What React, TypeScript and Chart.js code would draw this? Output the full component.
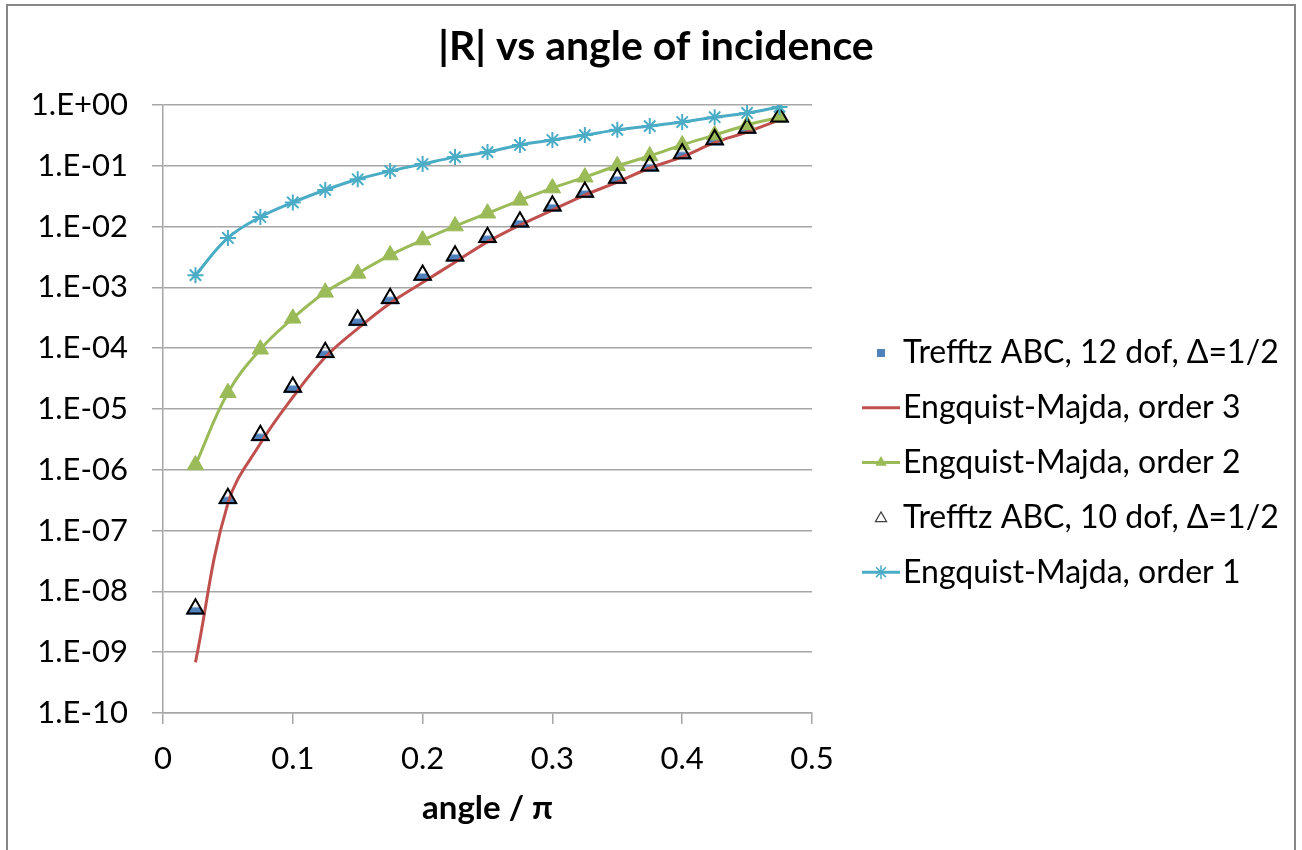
import React, { useEffect, useRef } from 'react';
import { Chart, registerables } from 'chart.js';

Chart.register(...registerables);

// ---------- data ----------
const angles = [0.025, 0.05, 0.075, 0.1, 0.125, 0.15, 0.175, 0.2, 0.225, 0.25, 0.275, 0.3, 0.325, 0.35, 0.375, 0.4, 0.425, 0.45, 0.475];
const trefftz12 = [5.2e-9, 3.4e-7, 3.7e-6, 2.3e-5, 8.6e-5, 2.9e-4, 6.6e-4, 1.6e-3, 3.3e-3, 6.7e-3, 1.2e-2, 2.2e-2, 3.7e-2, 6.3e-2, 0.1, 0.16, 0.27, 0.42, 0.64];
const engquist3 = [6.8e-10, 2.8e-7, 2.7e-6, 1.56e-5, 7.1e-5, 2.1e-4, 5.5e-4, 1.2e-3, 2.6e-3, 5.6e-3, 1.06e-2, 1.87e-2, 3.3e-2, 5.4e-2, 9.2e-2, 0.14, 0.24, 0.36, 0.57];
const engquist2 = [1.2e-6, 1.85e-5, 9.6e-5, 3.1e-4, 8.3e-4, 1.7e-3, 3.4e-3, 6.0e-3, 1.02e-2, 1.66e-2, 2.7e-2, 4.3e-2, 6.5e-2, 0.1, 0.145, 0.22, 0.32, 0.47, 0.63];
const trefftz10 = [5.2e-9, 3.4e-7, 3.7e-6, 2.3e-5, 8.6e-5, 2.9e-4, 6.6e-4, 1.6e-3, 3.3e-3, 6.7e-3, 1.2e-2, 2.2e-2, 3.7e-2, 6.3e-2, 0.1, 0.16, 0.27, 0.42, 0.64];
const engquist1 = [1.59e-3, 6.5e-3, 1.44e-2, 2.5e-2, 4.0e-2, 6.0e-2, 8.2e-2, 0.107, 0.139, 0.168, 0.22, 0.265, 0.32, 0.39, 0.45, 0.525, 0.63, 0.74, 0.93];

const seriesNames = [
  'Trefftz ABC, 12 dof, Δ=1/2',
  'Engquist-Majda, order 3',
  'Engquist-Majda, order 2',
  'Trefftz ABC, 10 dof, Δ=1/2',
  'Engquist-Majda, order 1',
];

const xTickValues = [0, 0.1, 0.2, 0.3, 0.4, 0.5];
const xTickLabels = ['0', '0.1', '0.2', '0.3', '0.4', '0.5'];
const yTickExponents = [0, -1, -2, -3, -4, -5, -6, -7, -8, -9, -10];
const yTickLabels = ['1.E+00', '1.E-01', '1.E-02', '1.E-03', '1.E-04', '1.E-05', '1.E-06', '1.E-07', '1.E-08', '1.E-09', '1.E-10'];

const chartTitle = '|R| vs angle of incidence';
const xAxisTitle = 'angle / π';

// ---------- styles ----------
const FONT = 'Lato, "Open Sans", "DejaVu Sans", sans-serif';
const BLUE = '#4F81BD';
const RED = '#C0504D';
const GREEN = '#9BBB59';
const CYAN = '#4BACC6';
const GRID = '#a6a6a6';

const toPoints = (ys: number[]) => angles.map((x, i) => ({ x, y: ys[i] }));

function makeBlueMarker(): HTMLCanvasElement {
  const s = 26;
  const c = document.createElement('canvas');
  c.width = s;
  c.height = s;
  const ctx = c.getContext('2d')!;
  const cx = s / 2;
  const cy = s / 2;
  ctx.save();
  ctx.beginPath();
  ctx.rect(0, cy - 1.5, s, s);
  ctx.clip();
  ctx.fillStyle = BLUE;
  ctx.beginPath();
  ctx.moveTo(cx, cy - 10.5);
  ctx.lineTo(cx + 9.5, cy + 6);
  ctx.lineTo(cx - 9.5, cy + 6);
  ctx.closePath();
  ctx.fill();
  ctx.restore();
  return c;
}

function triPath(ctx: CanvasRenderingContext2D, x: number, y: number, r: number) {
  ctx.beginPath();
  ctx.moveTo(x, y - r);
  ctx.lineTo(x + r * Math.sin(Math.PI / 3), y + r / 2);
  ctx.lineTo(x - r * Math.sin(Math.PI / 3), y + r / 2);
  ctx.closePath();
}

function starPath(ctx: CanvasRenderingContext2D, x: number, y: number, r: number) {
  const d = r * Math.SQRT1_2;
  ctx.beginPath();
  ctx.moveTo(x, y - r); ctx.lineTo(x, y + r);
  ctx.moveTo(x - r, y); ctx.lineTo(x + r, y);
  ctx.moveTo(x - d, y - d); ctx.lineTo(x + d, y + d);
  ctx.moveTo(x - d, y + d); ctx.lineTo(x + d, y - d);
}

const chromePlugin = {
  id: 'chrome',
  beforeDraw(chart: any) {
    const { ctx, width, height } = chart;
    ctx.save();
    ctx.fillStyle = '#ffffff';
    ctx.fillRect(0, 0, width, height);
    ctx.restore();
  },
  afterDraw(chart: any) {
    const { ctx, chartArea } = chart;
    ctx.save();
    // outer frame
    ctx.strokeStyle = '#878787';
    ctx.lineWidth = 2;
    ctx.strokeRect(7, 5, 1288, 900);

    // title
    ctx.fillStyle = '#000';
    ctx.textAlign = 'center';
    ctx.textBaseline = 'middle';
    ctx.font = `bold 41px ${FONT}`;
    ctx.fillText(chartTitle, 656, 47);

    // x axis title
    ctx.font = `bold 33px ${FONT}`;
    ctx.fillText(xAxisTitle, (chartArea.left + chartArea.right) / 2, 808);

    // legend
    const lx0 = 862, lx1 = 900, lxc = 881, tx = 903;
    const top = 353, step = 54.8;
    ctx.font = `32px ${FONT}`;
    ctx.textAlign = 'left';
    seriesNames.forEach((name, i) => {
      const y = top + i * step;
      ctx.save();
      if (i === 0) {
        ctx.fillStyle = BLUE;
        ctx.fillRect(lxc - 4, y - 4, 8, 8);
      } else if (i === 1) {
        ctx.strokeStyle = RED; ctx.lineWidth = 3;
        ctx.beginPath(); ctx.moveTo(lx0, y); ctx.lineTo(lx1, y); ctx.stroke();
      } else if (i === 2) {
        ctx.strokeStyle = GREEN; ctx.lineWidth = 3;
        ctx.beginPath(); ctx.moveTo(lx0, y); ctx.lineTo(lx1, y); ctx.stroke();
        ctx.fillStyle = GREEN;
        triPath(ctx, lxc, y, 6.5); ctx.fill();
      } else if (i === 3) {
        ctx.strokeStyle = '#404040'; ctx.lineWidth = 1.2; ctx.fillStyle = '#fff';
        triPath(ctx, lxc, y + 1, 6.5); ctx.fill(); ctx.stroke();
      } else {
        ctx.strokeStyle = CYAN; ctx.lineWidth = 3;
        ctx.beginPath(); ctx.moveTo(lx0, y); ctx.lineTo(lx1, y); ctx.stroke();
        ctx.lineWidth = 1.5;
        starPath(ctx, lxc, y, 7); ctx.stroke();
      }
      ctx.restore();
      ctx.fillStyle = '#000';
      ctx.fillText(name, tx, y);
    });
    ctx.restore();
  },
};

export default function App() {
  const ref = useRef<HTMLCanvasElement>(null);

  useEffect(() => {
    document.body.style.margin = '0';
    const canvas = ref.current!;
    const blueMarker = makeBlueMarker();

    const chart = new Chart(canvas, {
      type: 'line',
      data: {
        datasets: [
          {
            label: seriesNames[0],
            data: toPoints(trefftz12),
            showLine: false,
            pointStyle: blueMarker as any,
            pointRadius: 9,
            borderColor: BLUE,
            backgroundColor: BLUE,
            order: 5,
          },
          {
            label: seriesNames[1],
            data: toPoints(engquist3),
            borderColor: RED,
            backgroundColor: RED,
            borderWidth: 3,
            pointRadius: 0,
            tension: 0.4,
            order: 4,
          },
          {
            label: seriesNames[2],
            data: toPoints(engquist2),
            borderColor: GREEN,
            backgroundColor: GREEN,
            borderWidth: 3,
            pointStyle: 'triangle',
            pointRadius: 9.5,
            pointBorderWidth: 1,
            pointBackgroundColor: GREEN,
            pointBorderColor: GREEN,
            tension: 0.4,
            order: 3,
          },
          {
            label: seriesNames[3],
            data: toPoints(trefftz10),
            showLine: false,
            pointStyle: 'triangle',
            pointRadius: 9.5,
            pointBorderWidth: 2,
            pointBorderColor: '#000',
            pointBackgroundColor: 'rgba(0,0,0,0)',
            borderColor: '#000',
            backgroundColor: 'rgba(0,0,0,0)',
            order: 2,
          },
          {
            label: seriesNames[4],
            data: toPoints(engquist1),
            borderColor: CYAN,
            backgroundColor: CYAN,
            borderWidth: 3,
            pointStyle: 'star',
            pointRadius: 8,
            pointBorderWidth: 2,
            pointBorderColor: CYAN,
            tension: 0.4,
            order: 1,
          },
        ],
      },
      options: {
        responsive: false,
        animation: false,
        devicePixelRatio: window.devicePixelRatio || 1,
        layout: { padding: { left: 0, right: 490, top: 105, bottom: 0 } },
        plugins: {
          legend: { display: false },
          title: { display: false },
          tooltip: { enabled: false },
        },
        scales: {
          x: {
            type: 'linear',
            min: 0,
            max: 0.5,
            afterBuildTicks: (scale: any) => {
              scale.ticks = xTickValues.map((v) => ({ value: v }));
            },
            afterFit: (scale: any) => {
              scale.height = 850 - 713;
            },
            ticks: {
              autoSkip: false,
              maxRotation: 0,
              padding: 16,
              color: '#000',
              font: { family: FONT, size: 31 },
              callback: (_v: any, i: number) => xTickLabels[i],
            },
            grid: {
              drawOnChartArea: false,
              drawTicks: true,
              tickLength: 11,
              color: GRID,
              lineWidth: 1.5,
            },
            border: { display: true, color: GRID, width: 1.5 },
          },
          y: {
            type: 'logarithmic',
            min: 1e-10,
            max: 1,
            afterBuildTicks: (scale: any) => {
              scale.ticks = yTickExponents.map((e) => ({ value: Math.pow(10, e) }));
            },
            afterFit: (scale: any) => {
              scale.width = 163;
            },
            ticks: {
              autoSkip: false,
              padding: 24,
              color: '#000',
              font: { family: FONT, size: 31 },
              callback: (v: any) => {
                const e = Math.round(Math.log10(Number(v)));
                const idx = yTickExponents.indexOf(e);
                return idx >= 0 ? yTickLabels[idx] : '';
              },
            },
            grid: {
              drawOnChartArea: true,
              drawTicks: true,
              tickLength: 11,
              color: GRID,
              lineWidth: 1.5,
            },
            border: { display: true, color: GRID, width: 1.5 },
          },
        },
      } as any,
      plugins: [chromePlugin],
    });

    return () => chart.destroy();
  }, []);

  return (
    <div style={{ width: 1302, height: 850 }}>
      <canvas ref={ref} width={1302} height={850} style={{ display: 'block', width: 1302, height: 850 }} />
    </div>
  );
}
